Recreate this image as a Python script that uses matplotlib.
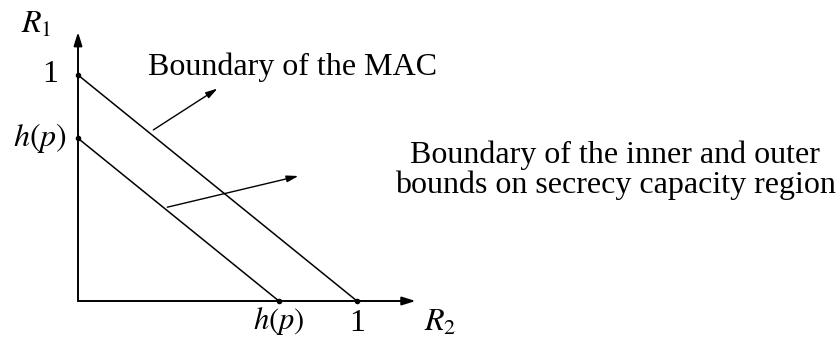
import matplotlib

matplotlib.use("Agg")
import matplotlib.pyplot as plt

plt.rcParams["font.family"] = "Liberation Serif"
plt.rcParams["mathtext.fontset"] = "stix"

# boundary segments (R2, R1)
mac_r2 = [0.0, 1.0]
mac_r1 = [1.0, 0.0]
hp = 0.72
inner_r2 = [0.0, hp]
inner_r1 = [hp, 0.0]

# arrows pointing from a line to its caption
mac_arrow = [(0.27, 0.757), (0.50, 0.94)]
inner_arrow = [(0.32, 0.415), (0.79, 0.553)]

fig = plt.figure(figsize=(8.4, 3.39), dpi=100)
ax = fig.add_axes([0, 0, 1, 1])
ax.set_xlim(-78 / 279, 762 / 279)
ax.set_ylim(-38 / 226, 301 / 226)
ax.axis("off")

# axes with arrow heads
axis_style = dict(arrowstyle="-|>,head_length=0.8,head_width=0.25", color="black", lw=1.4,
                  shrinkA=0, shrinkB=0)
ax.annotate("", xy=(1.21, 0), xytext=(0, 0), arrowprops=axis_style)
ax.annotate("", xy=(0, 1.19), xytext=(0, 0), arrowprops=axis_style)

ax.plot(mac_r2, mac_r1, color="black", lw=1.1)
ax.plot(inner_r2, inner_r1, color="black", lw=1.1)
ax.plot([0, 0, 1, hp], [1, hp, 0, 0], "o", color="black", ms=3)

arrow_style = dict(arrowstyle="-|>,head_length=0.7,head_width=0.2", color="black", lw=1.0,
                   shrinkA=0, shrinkB=0)
ax.annotate("", xy=mac_arrow[1], xytext=mac_arrow[0], arrowprops=arrow_style)
ax.annotate("", xy=inner_arrow[1], xytext=inner_arrow[0], arrowprops=arrow_style)

fs = 23
ax.text(-0.1, 1.0, "1", fontsize=fs, ha="center", va="center")
ax.text(-0.04, hp, "$h(p)$", fontsize=fs, ha="right", va="center")
ax.text(-0.15, 1.22, "$R_1$", fontsize=fs, ha="center", va="center")
ax.text(hp, -0.09, "$h(p)$", fontsize=fs - 1, ha="center", va="center")
ax.text(1.0, -0.1, "1", fontsize=fs, ha="center", va="center")
ax.text(1.30, -0.1, "$R_2$", fontsize=fs, ha="center", va="center")

ax.text(0.25, 1.035, "Boundary of the MAC", fontsize=fs, ha="left", va="center")
ax.text(1.925, 0.58, "Boundary of the inner and outer\nbounds on secrecy capacity region",
        fontsize=fs, ha="center", va="center", linespacing=1.03)

fig.savefig("out.png", dpi=100)
